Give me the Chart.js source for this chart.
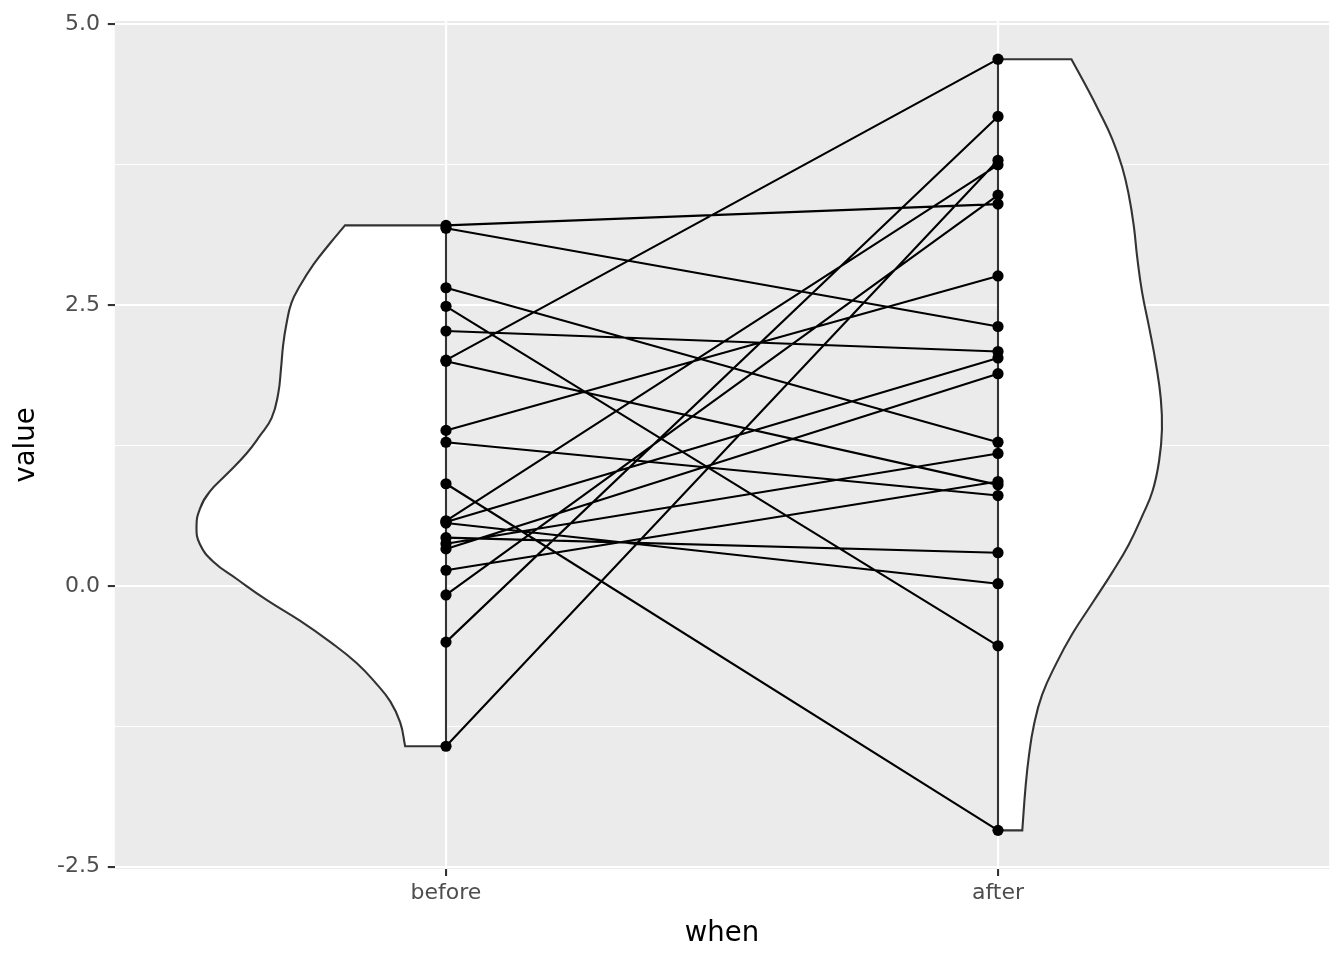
<!DOCTYPE html>
<html>
<head>
<meta charset="utf-8">
<script src="https://cdn.jsdelivr.net/npm/chart.js@4.4.1/dist/chart.umd.min.js"></script>
<style>
html, body { margin: 0; padding: 0; background: #ffffff; }
canvas { display: block; }
</style>
</head>
<body>
<canvas id="chart" width="1344" height="960"></canvas>
<script>
// ---- data ----
const categories = ['before', 'after'];
const beforeValues = [3.21, 3.185, 2.655, 2.49, 2.27, 2.01, 2.00, 1.385, 1.28, 0.91, 0.58, 0.57, 0.56, 0.43, 0.376, 0.33, 0.14, -0.08, -0.50, -1.427];
const afterValues  = [3.40, 2.31, 1.28, -0.533, 2.087, 4.69, 0.90, 2.76, 0.805, -2.176, 3.75, 2.03, 0.02, 0.296, 1.18, 1.89, 0.93, 3.48, 4.18, 3.79];

// half-violin outlines: value along y, half-width in category units
const beforeViolinValues = [3.21, 3.051, 2.863, 2.677, 2.521, 2.334, 2.147, 1.930, 1.711, 1.494, 1.338, 1.182, 0.996, 0.840, 0.685, 0.528, 0.373, 0.218, 0.062, -0.124, -0.311, -0.498, -0.686, -0.872, -1.028, -1.214, -1.427];
const beforeViolinWidths = [0.183, 0.210, 0.240, 0.264, 0.280, 0.289, 0.295, 0.299, 0.304, 0.316, 0.337, 0.361, 0.397, 0.428, 0.446, 0.452, 0.446, 0.422, 0.379, 0.325, 0.264, 0.210, 0.162, 0.126, 0.101, 0.083, 0.074];
const afterViolinValues = [4.69, 4.455, 4.227, 3.978, 3.728, 3.479, 3.206, 2.934, 2.616, 2.298, 1.981, 1.663, 1.391, 1.119, 0.846, 0.620, 0.370, 0.121, -0.152, -0.424, -0.696, -0.968, -1.240, -1.513, -1.785, -2.176];
const afterViolinWidths = [0.133, 0.159, 0.183, 0.207, 0.225, 0.237, 0.246, 0.252, 0.261, 0.274, 0.286, 0.295, 0.297, 0.292, 0.280, 0.261, 0.237, 0.207, 0.171, 0.135, 0.105, 0.080, 0.065, 0.056, 0.050, 0.044];

const yTickValues = [-2.5, -1.25, 0, 1.25, 2.5, 3.75, 5.0];
const yTickLabels = ['-2.5', '', '0.0', '', '2.5', '', '5.0'];
const xTitle = 'when';
const yTitle = 'value';

// ---- build datasets ----
function violinOutline(center, side, vals, widths) {
  const pts = [];
  const top = vals[0], bot = vals[vals.length - 1];
  pts.push({x: center, y: top}, {x: center, y: top});
  vals.forEach((v, i) => {
    const p = {x: center + side * widths[i], y: v};
    pts.push(p);
    if (i === 0 || i === vals.length - 1) pts.push({x: p.x, y: p.y});
  });
  pts.push({x: center, y: bot}, {x: center, y: bot});
  pts.push({x: center, y: top});
  return pts;
}

const pairLines = [];
beforeValues.forEach((b, i) => {
  pairLines.push({x: 1, y: b}, {x: 2, y: afterValues[i]}, {x: 1.5, y: null});
});
const pointData = beforeValues.map(v => ({x: 1, y: v})).concat(afterValues.map(v => ({x: 2, y: v})));

const violinStyle = {
  showLine: true,
  borderColor: '#333333',
  borderWidth: 2.1,
  backgroundColor: '#FFFFFF',
  fill: 'shape',
  tension: 0.45,
  pointRadius: 0,
  order: 3
};

const panelBg = {
  id: 'panelBg',
  beforeDraw(chart) {
    const {ctx, chartArea: a} = chart;
    ctx.save();
    ctx.fillStyle = '#EBEBEB';
    ctx.fillRect(a.left, a.top, a.right - a.left, a.bottom - a.top);
    ctx.restore();
  }
};

Chart.defaults.font.family = "'DejaVu Sans', sans-serif";

new Chart(document.getElementById('chart'), {
  type: 'scatter',
  data: {
    datasets: [
      Object.assign({label: 'violin before', data: violinOutline(1, -1, beforeViolinValues, beforeViolinWidths)}, violinStyle),
      Object.assign({label: 'violin after', data: violinOutline(2, 1, afterViolinValues, afterViolinWidths)}, violinStyle),
      {
        label: 'pairs',
        data: pairLines,
        showLine: true,
        spanGaps: false,
        borderColor: '#000000',
        borderWidth: 2.1,
        pointRadius: 0,
        tension: 0,
        fill: false,
        order: 2
      },
      {
        label: 'points',
        data: pointData,
        showLine: false,
        pointRadius: 5.6,
        pointBackgroundColor: '#000000',
        pointBorderWidth: 0,
        order: 1
      }
    ]
  },
  options: {
    responsive: false,
    animation: false,
    events: [],
    devicePixelRatio: 1,
    layout: { padding: { left: 0, right: 14.8, top: 19, bottom: 0 } },
    plugins: { legend: { display: false }, tooltip: { enabled: false } },
    scales: {
      x: {
        type: 'linear',
        min: 0.4,
        max: 2.6,
        afterBuildTicks(scale) { scale.ticks = [{value: 1}, {value: 2}]; },
        afterFit(scale) { scale.height = 91; },
        border: { display: false },
        grid: {
          color: '#FFFFFF',
          lineWidth: 2.1,
          tickColor: '#333333',
          tickLength: 7,
          tickWidth: 2.1
        },
        ticks: {
          autoSkip: false,
          maxRotation: 0,
          padding: 4,
          color: '#4D4D4D',
          font: { size: 22 },
          callback: (v) => categories[Math.round(v) - 1] || ''
        },
        title: {
          display: true,
          text: xTitle,
          color: '#000000',
          font: { size: 27.5 },
          padding: { top: 0, bottom: 9.5 }
        }
      },
      y: {
        type: 'linear',
        min: -2.52,
        max: 5.03,
        afterBuildTicks(scale) { scale.ticks = yTickValues.map(v => ({value: v})); },
        afterFit(scale) { scale.width = 114.8; },
        border: { display: false },
        grid: {
          color: '#FFFFFF',
          lineWidth: (ctx) => (ctx.tick && Math.abs(ctx.tick.value / 2.5 - Math.round(ctx.tick.value / 2.5)) < 1e-6) ? 2.1 : 1.05,
          tickColor: (ctx) => (ctx.tick && Math.abs(ctx.tick.value / 2.5 - Math.round(ctx.tick.value / 2.5)) < 1e-6) ? '#333333' : 'rgba(0,0,0,0)',
          tickLength: 7,
          tickWidth: 2.1
        },
        ticks: {
          autoSkip: false,
          padding: 7.8,
          color: '#4D4D4D',
          font: { size: 22 },
          callback: (v) => {
            const i = yTickValues.findIndex(t => Math.abs(t - v) < 1e-6);
            return i >= 0 ? yTickLabels[i] : '';
          }
        },
        title: {
          display: true,
          text: yTitle,
          color: '#000000',
          font: { size: 27.5 },
          padding: { top: 10.5, bottom: 0 }
        }
      }
    }
  },
  plugins: [panelBg]
});
</script>
</body>
</html>
